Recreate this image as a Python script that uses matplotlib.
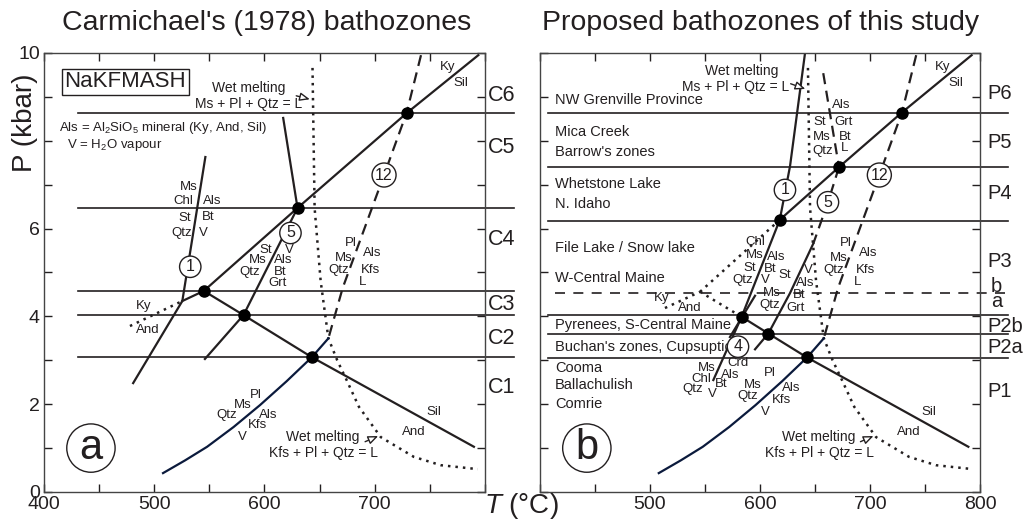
import matplotlib.pyplot as plt

plt.rcParams['font.family'] = ['Liberation Sans', 'DejaVu Sans']
plt.rcParams['mathtext.fontset'] = 'custom'
plt.rcParams['mathtext.rm'] = 'Liberation Sans'
plt.rcParams['mathtext.it'] = 'Liberation Sans:italic'

INK = '#231f20'
NAVY = '#0b1a3c'

# bathozone boundaries (kbar) and labels
carm_bounds = [8.63, 6.47, 4.58, 4.03, 3.07]
carm_names = ['C6', 'C5', 'C4', 'C3', 'C2', 'C1']
carm_name_p = [9.04, 7.84, 5.76, 4.28, 3.49, 2.37]

new_bounds = [8.63, 7.40, 6.17, 4.03, 3.60, 3.05]
new_ab = 4.53
new_names = ['P6', 'P5', 'P4', 'P3', 'P2b', 'P2a', 'P1']
new_name_p = [9.07, 7.95, 6.79, 5.26, 3.78, 3.30, 2.28]

# field areas listed inside the proposed zones
areas = ['NW Grenville Province', 'Mica Creek', "Barrow's zones", 'Whetstone Lake',
         'N. Idaho', 'File Lake / Snow lake', 'W-Central Maine',
         'Pyrenees, S-Central Maine', "Buchan's zones, Cupsuptic",
         'Cooma', 'Ballachulish', 'Comrie']
areas_p = [8.93, 8.20, 7.75, 7.02, 6.56, 5.56, 4.87, 3.80, 3.30, 2.82, 2.44, 2.00]

# wet solidus (Ms + Pl + Qtz = L, then Kfs + Pl + Qtz = L)
wet_T = [643.6, 645.5, 651, 658, 666, 673.6, 685.7, 705.5, 735.5, 760, 793.6]
wet_P = [9.66, 6.47, 4.8, 3.5, 3.0, 2.6, 1.94, 1.25, 0.8, 0.61, 0.52]

# reaction 12 (melting) and its subsolidus Kfs-forming branch
r12_T = [742, 729, 708.5, 671, 658]
r12_P = [9.95, 8.64, 7.22, 4.65, 3.5]
kfs_T = [508, 528, 548, 572, 596, 620, 643, 658]
kfs_P = [0.43, 0.72, 1.03, 1.48, 1.98, 2.52, 3.07, 3.5]

# aluminosilicate equilibria, panel a
kysil_a_T = [545, 630, 729, 794]
kysil_a_P = [4.58, 6.47, 8.63, 9.95]
andsil_a_T = [545, 581, 643, 790]
andsil_a_P = [4.58, 4.03, 3.07, 1.03]
kyand_a_T = [478, 525.5, 545]
kyand_a_P = [3.78, 4.35, 4.58]

r1_a_T = [546.4, 525.5, 480.9]
r1_a_P = [7.63, 4.35, 2.48]
r5_a_T = [617, 630, 581, 546]
r5_a_P = [8.52, 6.47, 4.03, 3.03]

# aluminosilicate equilibria, panel b
kysil_b_T = [545.5, 618, 671.8, 728.8, 792.4]
kysil_b_P = [4.56, 6.2, 7.4, 8.64, 9.95]
andsil_b_T = [545.5, 583.3, 607.6, 642.4, 789.4]
andsil_b_P = [4.56, 3.99, 3.61, 3.07, 1.03]
kyand_b_T = [513.6, 545.5]
kyand_b_P = [4.19, 4.56]

r1_b_T = [640.9, 627.3, 618, 583.3, 557.6]
r1_b_P = [9.99, 7.42, 6.2, 3.99, 2.55]
r4_b_T = [595.5, 572.7]
r4_b_P = [4.47, 3.53]
r5m_b_T = [657.5, 671.8]
r5m_b_P = [9.54, 7.4]
r5d_b_T = [671.8, 661.8, 648.5]
r5d_b_P = [7.4, 6.6, 5.66]
r5s_b_T = [648.5, 627.3, 607.6, 595.5]
r5s_b_P = [5.66, 4.53, 3.61, 3.25]

pts_a = [(545, 4.58), (581, 4.03), (643, 3.07), (630, 6.47), (729, 8.63)]
pts_b = [(618, 6.2), (671.8, 7.4), (728.8, 8.64), (583.3, 3.99),
         (607.6, 3.61), (642.4, 3.07)]

DOT = (0, (1, 2))
DASH = (0, (5, 3))
MIN_FS = 9.5

fig = plt.figure(figsize=(10.25, 5.23), dpi=100)
ax_a = fig.add_axes([0.0429, 0.0593, 0.4302, 0.8394])
ax_b = fig.add_axes([0.5268, 0.0593, 0.4293, 0.8394])


def setup(ax, xlabels, ylabels):
    ax.set_xlim(400, 800)
    ax.set_ylim(0, 10)
    ax.set_xticks(range(400, 801, 50))
    ax.set_xticklabels([str(t) if t in xlabels else '' for t in range(400, 801, 50)])
    ax.set_yticks(range(0, 11))
    ax.set_yticklabels([str(p) if p in ylabels else '' for p in range(0, 11)])
    ax.tick_params(direction='in', length=6, width=1, top=True, right=True,
                   labelsize=14, colors=INK, pad=3)
    for s in ax.spines.values():
        s.set_linewidth(1.0)
        s.set_color('#444444')


def label(ax, T, P, s, size=MIN_FS, **kw):
    ax.text(T, P, s, fontsize=size, color=INK, ha='center', va='center', **kw)


def num(ax, T, P, s):
    ax.text(T, P, s, fontsize=11.5, color=INK, ha='center', va='center', zorder=6,
            bbox=dict(boxstyle='circle,pad=0.2', fc='white', ec=INK, lw=1.0))


def arrow(ax, tip, tail):
    ax.annotate('', xy=tip, xytext=tail,
                arrowprops=dict(arrowstyle='-|>,head_length=0.6,head_width=0.25',
                                fc='white', ec=INK, lw=1.0))


def common(ax, letter):
    ax.plot(wet_T, wet_P, color=INK, ls=DOT, lw=1.8)
    ax.plot(r12_T, r12_P, color=INK, ls=DASH, lw=1.6)
    ax.plot(kfs_T, kfs_P, color=NAVY, lw=1.6)
    num(ax, 708.5, 7.22, '12')
    for T, P, s in [(678, 5.67, 'Pl'), (698, 5.44, 'Als'), (672, 5.33, 'Ms'),
                    (667, 5.06, 'Qtz'), (696, 5.06, 'Kfs'), (689, 4.78, 'L'),
                    (766, 9.68, 'Ky'), (778, 9.32, 'Sil'),
                    (753.6, 1.82, 'Sil'), (735.5, 1.37, 'And')]:
        label(ax, T, P, s)
    label(ax, 653, 1.25, 'Wet melting', 10)
    label(ax, 654, 0.89, 'Kfs + Pl + Qtz = L', 10)
    arrow(ax, (705.5, 1.30), (689, 1.12))
    ax.text(442.6, 1.0, letter, fontsize=30, color=INK, ha='center', va='center',
            bbox=dict(boxstyle='circle,pad=0.1', fc='white', ec=INK, lw=1.0))


def zone_lines(ax, bounds, t0, t1):
    for p in bounds:
        ax.plot([t0, t1], [p, p], color=INK, lw=1.2, clip_on=False, zorder=1)


# ---------- panel a: Carmichael (1978) ----------
setup(ax_a, [400, 500, 600, 700], [0, 2, 4, 6, 10])
zone_lines(ax_a, carm_bounds, 431, 826)
for name, p in zip(carm_names, carm_name_p):
    ax_a.text(815, p, name, fontsize=15.5, color=INK, ha='center', va='center', clip_on=False)

common(ax_a, 'a')
ax_a.plot(kysil_a_T, kysil_a_P, color=INK, lw=1.6)
ax_a.plot(andsil_a_T, andsil_a_P, color=INK, lw=1.6)
ax_a.plot(kyand_a_T[:2], kyand_a_P[:2], color=INK, ls=DOT, lw=1.8)
ax_a.plot(kyand_a_T[1:], kyand_a_P[1:], color=INK, lw=1.6)
ax_a.plot(r1_a_T, r1_a_P, color=INK, lw=1.6)
ax_a.plot(r5_a_T, r5_a_P, color=INK, lw=1.6)
for T, P in pts_a:
    ax_a.plot(T, P, 'o', color='k', ms=8, zorder=5)
num(ax_a, 532.7, 5.13, '1')
num(ax_a, 623.6, 5.9, '5')
for T, P, s in [(531, 6.95, 'Ms'), (526, 6.63, 'Chl'), (552.5, 6.63, 'Als'),
                (528, 6.24, 'St'), (549, 6.26, 'Bt'), (525, 5.9, 'Qtz'), (544.5, 5.9, 'V'),
                (601, 5.51, 'St'), (622.7, 5.51, 'V'), (593.6, 5.28, 'Ms'), (617, 5.28, 'Als'),
                (587, 5.01, 'Qtz'), (614.5, 5.01, 'Bt'), (612, 4.76, 'Grt'),
                (490, 4.24, 'Ky'), (494.5, 3.7, 'And'),
                (592, 2.21, 'Pl'), (580, 1.98, 'Ms'), (566, 1.75, 'Qtz'),
                (603.6, 1.75, 'Als'), (593.6, 1.53, 'Kfs'), (580, 1.25, 'V')]:
    label(ax_a, T, P, s)
ax_a.text(473.6, 9.34, 'NaKFMASH', fontsize=16, color=INK, ha='center', va='center',
          bbox=dict(boxstyle='square,pad=0.12', fc='white', ec=INK, lw=1.0))
ax_a.text(414, 8.29, 'Als = Al$_2$SiO$_5$ mineral (Ky, And, Sil)', fontsize=9.5,
          color=INK, ha='left', va='center')
ax_a.text(420.5, 7.9, 'V = H$_2$O vapour', fontsize=9.5, color=INK, ha='left', va='center')
label(ax_a, 586, 9.2, 'Wet melting', 10)
label(ax_a, 586, 8.84, 'Ms + Pl + Qtz = L', 10)
arrow(ax_a, (643.6, 8.93), (626.4, 9.04))

# ---------- panel b: proposed bathozones ----------
setup(ax_b, [500, 600, 700, 800], [])
zone_lines(ax_b, new_bounds, 407, 825)
ax_b.plot([413.6, 830], [new_ab, new_ab], color=INK, lw=1.2, ls=(0, (6, 5)), clip_on=False)
for name, p in zip(new_names, new_name_p):
    ax_b.text(807, p, name, fontsize=14.5, color=INK, ha='left', va='center', clip_on=False)
ax_b.text(815, 4.69, 'b', fontsize=14.5, color=INK, ha='center', va='center', clip_on=False)
ax_b.text(815, 4.33, 'a', fontsize=14.5, color=INK, ha='center', va='center', clip_on=False)
for name, p in zip(areas, areas_p):
    ax_b.text(413.6, p, name, fontsize=10.5, color=INK, ha='left', va='center')

common(ax_b, 'b')
ax_b.plot(kysil_b_T[:2], kysil_b_P[:2], color=INK, ls=DOT, lw=1.8)
ax_b.plot(kysil_b_T[1:], kysil_b_P[1:], color=INK, lw=1.6)
ax_b.plot(andsil_b_T[:2], andsil_b_P[:2], color=INK, ls=DOT, lw=1.8)
ax_b.plot(andsil_b_T[1:], andsil_b_P[1:], color=INK, lw=1.6)
ax_b.plot(kyand_b_T, kyand_b_P, color=INK, ls=DOT, lw=1.8)
ax_b.plot(r1_b_T, r1_b_P, color=INK, lw=1.6)
ax_b.plot(r4_b_T, r4_b_P, color=INK, lw=1.6)
ax_b.plot(r5m_b_T, r5m_b_P, color=INK, ls=DASH, lw=1.6)
ax_b.plot(r5d_b_T, r5d_b_P, color=INK, ls=DASH, lw=1.6)
ax_b.plot(r5s_b_T, r5s_b_P, color=INK, lw=1.6)
for T, P in pts_b:
    ax_b.plot(T, P, 'o', color='k', ms=8, zorder=5)
num(ax_b, 622.7, 6.88, '1')
num(ax_b, 661.8, 6.6, '5')
num(ax_b, 580, 3.31, '4')
for T, P, s in [(595.5, 5.7, 'Chl'), (595.5, 5.4, 'Ms'), (591, 5.1, 'St'), (584, 4.83, 'Qtz'),
                (615, 5.35, 'Als'), (609, 5.08, 'Bt'), (604.5, 4.83, 'V'),
                (622.7, 4.94, 'St'), (643.6, 5.06, 'V'), (610.6, 4.53, 'Ms'), (641, 4.76, 'Als'),
                (636, 4.49, 'Bt'), (609, 4.26, 'Qtz'), (632, 4.19, 'Grt'),
                (674, 8.82, 'Als'), (654.5, 8.43, 'St'), (676, 8.43, 'Grt'),
                (656, 8.09, 'Ms'), (677, 8.09, 'Bt'), (657, 7.77, 'Qtz'), (677, 7.84, 'L'),
                (510.6, 4.42, 'Ky'), (536, 4.2, 'And'),
                (551.5, 2.82, 'Ms'), (580, 2.94, 'Crd'), (547, 2.57, 'Chl'), (573, 2.66, 'Als'),
                (539, 2.35, 'Qtz'), (565, 2.46, 'Bt'), (557, 2.23, 'V'),
                (609, 2.7, 'Pl'), (593.6, 2.44, 'Ms'), (589, 2.19, 'Qtz'),
                (628.8, 2.37, 'Als'), (619.7, 2.09, 'Kfs'), (604.5, 1.82, 'V')]:
    label(ax_b, T, P, s)
label(ax_b, 583.6, 9.59, 'Wet melting', 10)
label(ax_b, 578, 9.22, 'Ms + Pl + Qtz = L', 10)
arrow(ax_b, (643.6, 9.16), (625.5, 9.32))

fig.text(267 / 1025, 1 - 23 / 523, "Carmichael's (1978) bathozones", fontsize=20.5,
         color=INK, ha='center', va='center')
fig.text(761 / 1025, 1 - 23 / 523, 'Proposed bathozones of this study', fontsize=20.5,
         color=INK, ha='center', va='center')
fig.text(25 / 1025, 1 - 123 / 523, 'P (kbar)', fontsize=20, color=INK,
         rotation=90, ha='center', va='center')
fig.text(521 / 1025, 1 - 506 / 523, '$T$ (°C)', fontsize=20, color=INK,
         ha='center', va='center')

fig.savefig('out.png', dpi=100)
